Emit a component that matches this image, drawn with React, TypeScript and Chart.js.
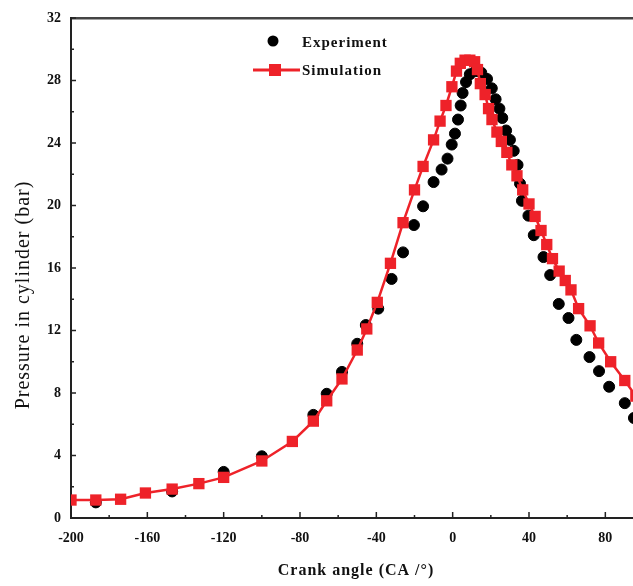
import React, { useEffect, useRef } from "react";
import { Chart, registerables } from "chart.js";

Chart.register(...registerables);

const xTicks = [-200, -160, -120, -80, -40, 0, 40, 80];
const yTicks = [0, 4, 8, 12, 16, 20, 24, 28, 32];

const expAngle = [
  -187, -147, -120, -100, -73, -66, -58, -50, -45.5, -39, -32, -26, -20.3, -15.5, -10, -5.8, -2.7,
  -0.5, 1.2, 2.8, 4.2, 5.2, 7, 9, 12, 15, 18, 20.5, 22.5, 24.5, 26, 28, 30, 32, 34, 35.3, 36.3,
  39.7, 42.5, 47.6, 51.1, 55.6, 60.7, 64.8, 71.7, 76.7, 82, 90.2, 95,
];
const expPressure = [
  1.0, 1.7, 2.95, 3.95, 6.6, 7.95, 9.35, 11.15, 12.35, 13.4, 15.3, 17.0, 18.75, 19.95, 21.5, 22.3, 23.0,
  23.9, 24.6, 25.5, 26.4, 27.2, 27.9, 28.4, 28.6, 28.5, 28.1, 27.5, 26.8, 26.2, 25.6, 24.8, 24.2, 23.5, 22.6, 21.4, 20.3,
  19.35, 18.1, 16.7, 15.55, 13.7, 12.8, 11.4, 10.3, 9.4, 8.4, 7.35, 6.4,
];

const simAngle = [
  -200, -187, -174, -161, -147, -133, -120, -100, -84, -73, -66, -58, -50, -45, -39.5, -32.6, -26, -20,
  -15.5, -10, -6.6, -3.5, -0.4, 2, 4, 6.5, 9, 11.5, 13, 14.5, 17, 18.8, 20.6, 23.2, 25.5, 28.4, 31, 33.7,
  36.7, 40, 43.2, 46.3, 49.3, 52.3, 55.8, 59, 62, 66, 72, 76.5, 82.8, 90.2, 96,
];
const simPressure = [
  1.15, 1.15, 1.2, 1.6, 1.85, 2.2, 2.6, 3.65, 4.9, 6.2, 7.5, 8.9, 10.75, 12.1, 13.8, 16.3, 18.9, 21.0,
  22.5, 24.2, 25.4, 26.4, 27.6, 28.6, 29.1, 29.3, 29.3, 29.2, 28.7, 27.8, 27.1, 26.2, 25.5, 24.7, 24.1, 23.4, 22.6, 21.9,
  21.0, 20.1, 19.3, 18.4, 17.5, 16.6, 15.8, 15.2, 14.6, 13.4, 12.3, 11.2, 10.0, 8.8, 7.8,
];

const RED = "#ee2229";
const SERIF = "'Liberation Serif', 'DejaVu Serif', serif";

const decorPlugin = {
  id: "decor",
  afterDraw(chart: any) {
    const { ctx, chartArea } = chart;
    const xs = chart.scales.x;
    const ys = chart.scales.y;
    ctx.save();
    ctx.strokeStyle = "#222";
    ctx.lineWidth = 1.5;
    // inward tick marks
    for (let i = 0; i < xTicks.length; i++) {
      const px = xs.getPixelForValue(xTicks[i]);
      ctx.beginPath();
      ctx.moveTo(px, chartArea.bottom);
      ctx.lineTo(px, chartArea.bottom - 6);
      ctx.stroke();
      const mid = xTicks[i] + 20;
      if (mid < xs.max) {
        const pm = xs.getPixelForValue(mid);
        ctx.beginPath();
        ctx.moveTo(pm, chartArea.bottom);
        ctx.lineTo(pm, chartArea.bottom - 3);
        ctx.stroke();
      }
    }
    for (let i = 0; i < yTicks.length; i++) {
      const py = ys.getPixelForValue(yTicks[i]);
      ctx.beginPath();
      ctx.moveTo(chartArea.left, py);
      ctx.lineTo(chartArea.left + 5, py);
      ctx.stroke();
      if (i < yTicks.length - 1) {
        const pm = ys.getPixelForValue(yTicks[i] + 2);
        ctx.beginPath();
        ctx.moveTo(chartArea.left, pm);
        ctx.lineTo(chartArea.left + 3, pm);
        ctx.stroke();
      }
    }
    // legend
    ctx.fillStyle = "#000";
    ctx.beginPath();
    ctx.arc(273, 41, 5.5, 0, Math.PI * 2);
    ctx.fill();
    ctx.strokeStyle = RED;
    ctx.lineWidth = 3;
    ctx.beginPath();
    ctx.moveTo(253, 70);
    ctx.lineTo(300, 70);
    ctx.stroke();
    ctx.fillStyle = RED;
    ctx.fillRect(269, 64, 12, 12);
    ctx.fillStyle = "#111";
    (ctx as any).letterSpacing = "1px";
    ctx.font = `bold 15px ${SERIF}`;
    ctx.textAlign = "left";
    ctx.textBaseline = "middle";
    ctx.fillText("Experiment", 302, 43);
    ctx.fillText("Simulation", 302, 71);
    // axis titles
    ctx.font = `bold 16px ${SERIF}`;
    ctx.textAlign = "center";
    ctx.fillText("Crank angle (CA /°)", 356, 571);
    ctx.save();
    ctx.translate(24, 295);
    ctx.rotate(-Math.PI / 2);
    ctx.font = `20px ${SERIF}`;
    ctx.fillText("Pressure in cylinder (bar)", 0, 0);
    ctx.restore();
    ctx.restore();
  },
};

export default function App() {
  const ref = useRef<HTMLCanvasElement | null>(null);
  useEffect(() => {
    document.body.style.margin = "0";
    if (!ref.current) return;
    const chart = new Chart(ref.current, {
      type: "scatter",
      data: {
        datasets: [
          {
            label: "Simulation",
            data: simAngle.map((a, i) => ({ x: a, y: simPressure[i] })),
            showLine: true,
            borderColor: RED,
            borderWidth: 2.5,
            backgroundColor: RED,
            pointStyle: "rect",
            pointRadius: 8,
            pointBorderWidth: 0,
            pointBackgroundColor: RED,
            order: 0,
          },
          {
            label: "Experiment",
            data: expAngle.map((a, i) => ({ x: a, y: expPressure[i] })),
            showLine: false,
            pointStyle: "circle",
            pointRadius: 5.5,
            pointBorderWidth: 1,
            pointBackgroundColor: "#000",
            pointBorderColor: "#000",
            order: 1,
          },
        ],
      },
      options: {
        responsive: false,
        animation: false,
        layout: { autoPadding: false, padding: { left: 0, right: 0, top: 0, bottom: 0 } },
        plugins: { legend: { display: false }, tooltip: { enabled: false } },
        scales: {
          x: {
            type: "linear",
            position: "bottom",
            min: -200,
            max: 94.5,
            afterBuildTicks: (scale: any) => {
              scale.ticks = xTicks.map((v) => ({ value: v }));
            },
            afterFit: (scale: any) => {
              scale.height = 68;
              scale.paddingLeft = 0;
              scale.paddingRight = 0;
            },
            grid: { display: false, drawTicks: false },
            border: { display: true, color: "#222", width: 2 },
            ticks: {
              padding: 12,
              color: "#111",
              font: { family: SERIF, size: 14, weight: "bold" },
              maxRotation: 0,
              autoSkip: false,
            },
          },
          xTop: {
            type: "linear",
            position: "top",
            min: -200,
            max: 94.5,
            afterFit: (scale: any) => {
              scale.height = 18;
              scale.paddingLeft = 0;
              scale.paddingRight = 0;
            },
            grid: { display: false, drawTicks: false },
            border: { display: true, color: "#444", width: 2.5 },
            ticks: { display: false },
          },
          y: {
            type: "linear",
            min: 0,
            max: 32,
            afterBuildTicks: (scale: any) => {
              scale.ticks = yTicks.map((v) => ({ value: v }));
            },
            afterFit: (scale: any) => {
              scale.width = 71;
              scale.paddingTop = 0;
              scale.paddingBottom = 0;
            },
            grid: { display: false, drawTicks: false },
            border: { display: true, color: "#222", width: 2 },
            ticks: {
              padding: 10,
              color: "#111",
              font: { family: SERIF, size: 14, weight: "bold" },
            },
          },
        },
      },
      plugins: [decorPlugin],
    });
    return () => chart.destroy();
  }, []);
  return (
    <div style={{ width: 633, height: 586 }}>
      <canvas ref={ref} width={633} height={586} style={{ display: "block" }} />
    </div>
  );
}
